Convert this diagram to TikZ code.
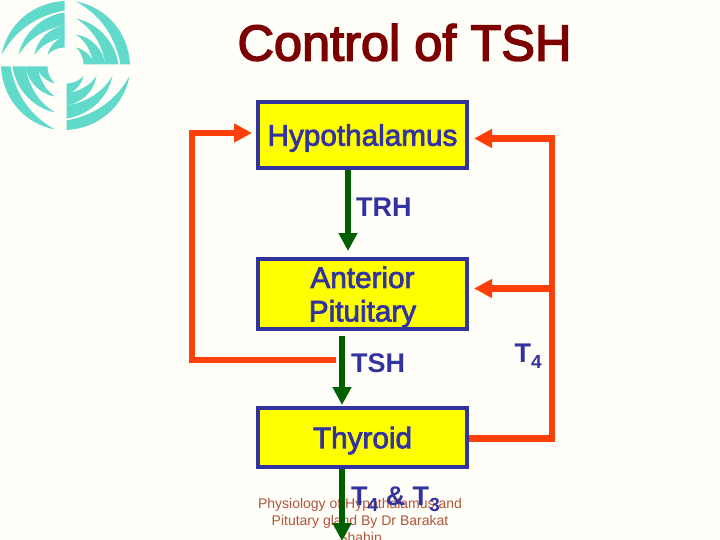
\documentclass[tikz,border=0pt]{standalone}
\usepackage{fontspec}
\setmainfont{Liberation Sans}
\newfontfamily\fatfont[FakeBold=3]{Liberation Sans}
\newfontfamily\midfont[FakeBold=2.5]{Liberation Sans}
\usetikzlibrary{arrows.meta}
\definecolor{bgc}{HTML}{FFFEF8}
\definecolor{logoc}{HTML}{62DACB}
\definecolor{titlec}{HTML}{7D0000}
\definecolor{bluec}{HTML}{3333A0}
\definecolor{redc}{HTML}{FF3F0A}
\definecolor{greenc}{HTML}{006000}
\definecolor{footc}{HTML}{B0553A}
\definecolor{boxy}{HTML}{FFFF00}
\newcommand{\Tsub}[1]{T\raisebox{-6.5pt}{\fontsize{19}{19}\selectfont #1}}
\newcommand{\dn}[1]{\raisebox{-3pt}[\height][\depth]{#1}}
\tikzset{
  boxn/.style={draw=bluec,line width=4pt,fill=boxy,text=bluec,minimum width=209pt,inner sep=0pt,align=center,font=\midfont\fontsize{29.7}{33.5}\selectfont},
  lab/.style={text=bluec,inner sep=0pt,font=\bfseries\fontsize{27}{32}\selectfont},
  redl/.style={draw=redc,line width=6.5pt},
  redarrow/.style={redl,-{Triangle[length=18pt,width=18pt]}},
  greenarrow/.style={draw=greenc,line width=6pt,-{Triangle[length=18pt,width=18pt]}},
  foot/.style={text=footc,align=center,inner sep=0pt,font=\fontsize{14}{17}\selectfont},
  swoosh/.style={fill=logoc,draw=none}
}
\newcommand{\quadr}{%
  \fill[swoosh] (-1,-64.5) .. controls (-32,-63) and (-58,-42) .. (-64,-10.5)
     .. controls (-50,-36) and (-28,-50) .. (-1,-55) -- cycle;
  \fill[swoosh] (-1,-53) .. controls (-22,-50) and (-42,-34) .. (-47,-10.5)
     .. controls (-36,-28) and (-20,-37) .. (-1,-40) -- cycle;
  \fill[swoosh] (-1,-40) .. controls (-14,-38) and (-28,-28) .. (-31,-10.5)
     .. controls (-24,-21) and (-13,-26) .. (-1,-28) -- cycle;
  \fill[swoosh] (-1,-29) .. controls (-8,-27) and (-16,-20) .. (-18,-10.5)
     .. controls (-14,-15) and (-8,-18) .. (-1,-18) -- cycle;
}
\begin{document}
\begin{tikzpicture}[x=1pt,y=-1pt]
\path[use as bounding box,fill=bgc] (0,0) rectangle (720,540);
\clip (0,0) rectangle (720,540);
% logo
\begin{scope}[shift={(65.5,65.5)}]
  \foreach \a in {0,90,180,270}{
    \begin{scope}[rotate=\a]\quadr\end{scope}
  }
\end{scope}
% title
\node[text=titlec,inner sep=0pt,anchor=base,font=\fatfont\fontsize{50.5}{50}\selectfont] (title) at (404.5,60.5) {Control of TSH};
% footer
\node[foot,anchor=north] (footer) at (360,498) {Physiology of Hypothalamus and\\Pitutary gland By Dr Barakat\\Shahin};
% boxes
\node[boxn,minimum height=66pt] (hyp) at (362.5,135) {\dn{Hypothalamus}};
\node[boxn,minimum height=70pt] (ant) at (362.5,294) {\dn{Anterior}\\\dn{Pituitary}};
\node[boxn,minimum height=59pt] (thy) at (362.5,437.5) {\dn{Thyroid}};
% labels
\node[lab,anchor=base west] (trh) at (356,217) {TRH};
\node[lab,anchor=base west] (tsh) at (351,372.5) {TSH};
\node[lab,anchor=base west] (t43) at (351,505) {\Tsub{4} \& \Tsub{3}};
\node[lab,anchor=base west] (t4r) at (514.5,362) {\Tsub{4}};
% helper coordinates
\coordinate (g1) at (348,251);
\coordinate (g2t) at (342,336);
\coordinate (g2) at (342,405);
\coordinate (g3) at (342,541);
\coordinate (lj) at (336,360);
\coordinate (lb) at (192,360);
\coordinate (lt) at (192,133);
\coordinate (rb) at (552,438.5);
\coordinate (rt) at (552,138.5);
\coordinate (rm) at (552,288.5);
\coordinate (hl) at (252,133);
\coordinate (hr) at (474,138.5);
\coordinate (ar) at (474,288.5);
% red
\draw[redarrow] (lj) -- (lb) -- (lt) -- (hl);
\draw[redarrow] (thy.east |- rb) -- (rb) -- (rt) -- (hr);
\draw[redarrow] (rm) -- (ar);
% green
\draw[greenarrow] (g1 |- hyp.south) -- (g1);
\draw[greenarrow] (g2t) -- (g2);
\draw[greenarrow] (g3 |- thy.south) -- (g3);
\end{tikzpicture}
\end{document}
